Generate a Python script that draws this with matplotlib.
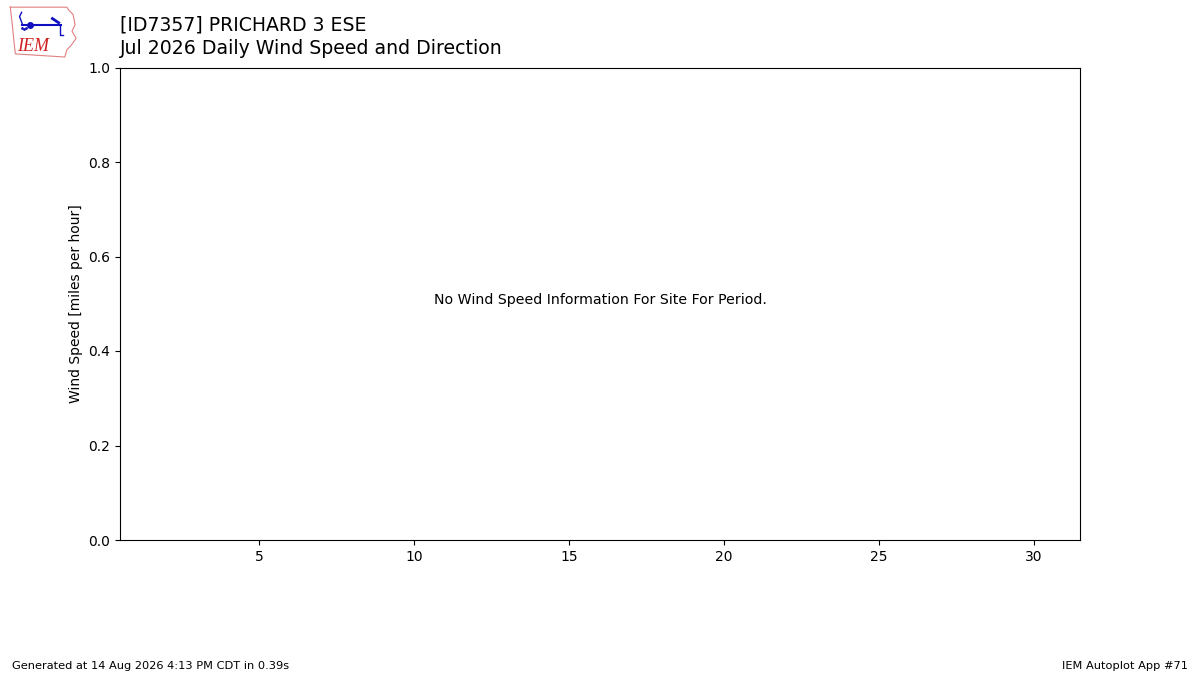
import matplotlib
matplotlib.use('Agg')
import matplotlib.pyplot as plt

station = "[ID7357] PRICHARD 3 ESE"
subtitle = "Jul 2026 Daily Wind Speed and Direction"
ylabel = "Wind Speed [miles per hour]"
message = "No Wind Speed Information For Site For Period."
footer_left = "Generated at 14 Aug 2026 4:13 PM CDT in 0.39s"
footer_right = "IEM Autoplot App #71"
xticks = [5, 10, 15, 20, 25, 30]
xlim = (0.5, 31.5)

fig = plt.figure(figsize=(12, 6.75), dpi=100)
ax = fig.add_axes([0.1, 0.2, 0.8, 0.7])
ax.set_xlim(*xlim)
ax.set_ylim(0, 1)
ax.set_xticks(xticks)
ax.set_ylabel(ylabel)
ax.text(0.5, 0.5, message, transform=ax.transAxes, ha='center', fontsize=10.2)

fig.text(0.1, 0.914, station + "\n" + subtitle, fontsize=13.6, va='bottom',
         linespacing=1.3)
fig.text(0.01, 0.009, footer_left, fontsize=8.2)
fig.text(0.99, 0.009, footer_right, fontsize=8.2, ha='right')

# rough IEM logo
lax = fig.add_axes([0.006, 0.914, 0.06, 0.08])
lax.set_xlim(0, 70)
lax.set_ylim(52, 0)
lax.axis('off')
ox = [3, 58, 60, 64, 66, 63, 67, 62, 58, 56, 8, 7, 5, 3]
oy = [3, 3, 6, 10, 20, 26, 33, 40, 44, 51, 48, 40, 20, 3]
lax.plot(ox, oy, color='#e08080', lw=0.8)
lax.plot([14, 52], [20, 20], color='#1010c0', lw=1.5)
lax.plot([15, 12, 14], [20, 12, 8], color='#1010c0', lw=1)
lax.plot([44, 50], [14, 18], color='#1010c0', lw=2)
lax.plot([51, 51, 54], [20, 30, 30], color='#1010c0', lw=1)
lax.plot([22], [20], 'o', color='#1010c0', ms=4)
lax.plot([14, 16, 18], [23, 24, 23], '.', color='#1010c0', ms=2)
lax.text(10, 45, "IEM", color='#d02020', fontsize=13, family='Liberation Serif', style='italic')

fig.savefig('out.png')
